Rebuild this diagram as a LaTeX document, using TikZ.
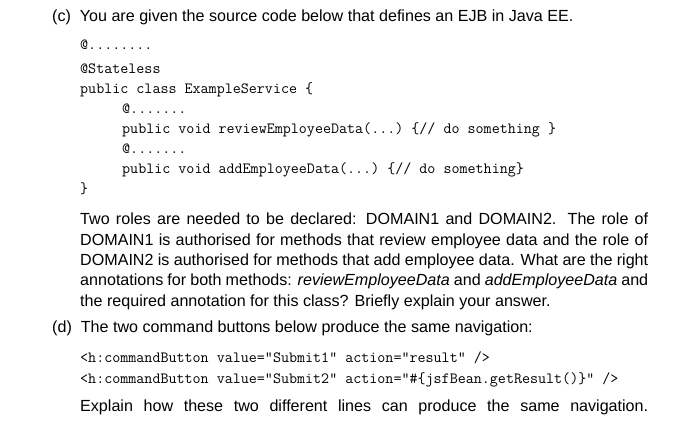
\documentclass[tikz,border=0pt]{standalone}
\usepackage{fontspec}
\setmainfont{Liberation Sans}
\setmonofont{Latin Modern Mono}
\begin{document}
\begin{tikzpicture}
		[x=1pt,y=-1pt,
		%Styles
		main text/.style={anchor=base west,inner sep=0pt,font=\fontsize{16.1}{20.3}\selectfont},
		code text/.style={anchor=base west,inner sep=0pt,font=\ttfamily\fontsize{15.6}{20}\selectfont},
		para text/.style={anchor=north west,inner sep=0pt,text width=568pt,align=justify,font=\fontsize{16.1}{20.3}\selectfont}
		]
		\useasboundingbox (0,0) rectangle (700,427);
		
		%Part c
		\node[main text] (c) at (52,22) {(c)\ \ You are given the source code below that defines an EJB in Java EE.};
		\node[code text] (a1) at (80,50) {@........};
		\node[code text] (a2) at (80,74) {@Stateless};
		\node[code text] (a3) at (80,94) {public class ExampleService \{};
		\node[code text] (a4) at (122,114) {@.......};
		\node[code text] (a5) at (122,134) {public void reviewEmployeeData(...) \{// do something \}};
		\node[code text] (a6) at (122,154) {@.......};
		\node[code text] (a7) at (122,174) {public void addEmployeeData(...) \{// do something\}};
		\node[code text] (a8) at (80,194) {\}};
		
		\node[para text] (p) at (80,213) {Two roles are needed to be declared: DOMAIN1 and DOMAIN2. The role of\linebreak
		DOMAIN1 is authorised for methods that review employee data and the role of\linebreak
		DOMAIN2 is authorised for methods that add employee data. What are the right\linebreak
		annotations for both methods: \textit{reviewEmployeeData} and \textit{addEmployeeData} and\linebreak
		the required annotation for this class? Briefly explain your answer.};
		
		%Part d
		\node[main text] (d) at (52,332) {(d)\ \ The two command buttons below produce the same navigation:};
		\node[code text] (b1) at (80,362) {<h:commandButton value="Submit1" action="result" />};
		\node[code text] (b2) at (80,383) {<h:commandButton value="Submit2" action="\#\{jsfBean.getResult()\}" />};
		\node[para text] (q) at (80,400) {Explain how these two different lines can produce the same navigation.\linebreak};
\end{tikzpicture}
\end{document}
